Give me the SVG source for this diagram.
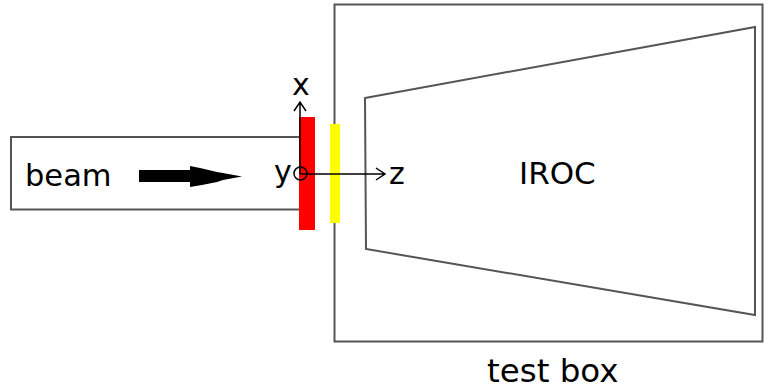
<svg xmlns="http://www.w3.org/2000/svg" width="770" height="390" viewBox="0 0 770 390">
<style>
.o{fill:none;stroke:#555;stroke-width:2}
.t{font-family:"DejaVu Sans",sans-serif;fill:#000}
.a{fill:none;stroke:#000;stroke-width:1.5}
</style>
<rect width="770" height="390" fill="#fff"/>
<g id="testbox"><rect class="o" x="334.5" y="4.5" width="428" height="337"/><text class="t" x="487" y="382" font-size="32.5">test box</text></g>
<g id="beam"><rect class="o" x="11" y="137" width="290" height="72.500"/><text class="t" x="25" y="186" font-size="30.500">beam</text></g>
<g id="iroc"><polygon class="o" points="365,98 755,27 755,315 366,249"/><text class="t" x="519" y="184" font-size="31">IROC</text></g>
<g id="red"><rect x="299" y="117" width="16" height="113" fill="#f00"/></g>
<g id="yellow"><rect x="330" y="124" width="10" height="99" fill="#ff0"/></g>
<g id="connectors">
<polygon points="139,170 190,170 190,166 200,168 217,172 223,173 242,176.500 223,180 217,182 202,185 190,187 190,182 139,182" fill="#000"/>
<path class="a" d="M300,174V102M294,111L300,102L306,111M300,174H385M376,168L385,174L376,180"/>
<circle class="a" cx="300.500" cy="173.500" r="6.500"/>
</g>
<g id="axes"><text class="t" x="292" y="95" font-size="30">x</text><text class="t" x="274" y="182" font-size="30">y</text><text class="t" x="389" y="184" font-size="30">z</text></g>
</svg>
